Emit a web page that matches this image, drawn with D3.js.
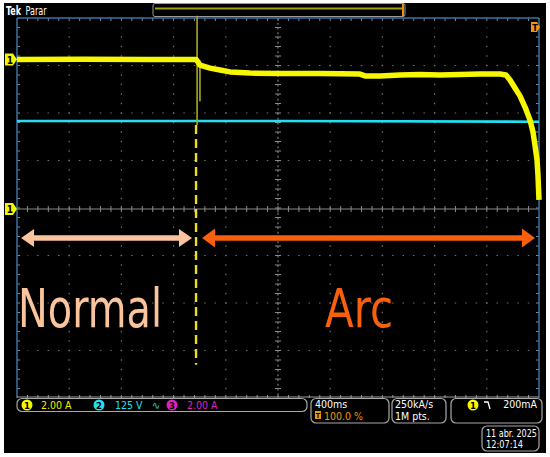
<!DOCTYPE html>
<html><head><meta charset="utf-8">
<script src="https://cdn.jsdelivr.net/npm/d3@7"></script>
<style>html,body{margin:0;padding:0;background:#fff;}svg{display:block;}</style>
</head><body>
<script>
// ---- data ----
const ch1Time = [0, 500, 1019, 1372, 1387, 1402, 1479, 1556, 1632, 1785, 2015, 2322, 2628, 2667, 2782, 2935, 3088, 3241, 3395, 3548, 3701, 3747, 3778, 3816, 3854, 3893, 3931, 3954, 3969, 3985, 3992, 4000];
const ch1Amps = [6.25, 6.26, 6.25, 6.25, 6.15, 6.02, 5.89, 5.81, 5.73, 5.68, 5.66, 5.66, 5.64, 5.56, 5.56, 5.60, 5.62, 5.60, 5.62, 5.64, 5.64, 5.60, 5.39, 5.05, 4.72, 4.25, 3.71, 3.20, 2.65, 2.02, 1.39, 0.34];
const ch2Time = [0, 2000, 4000];
const ch2Volts = [229, 229, 227];
const spikeTime = [1380, 1402];
const spikeTop = [8.1, 6.2];
const spikeBottom = [3.5, 4.5];
const triggerTime = 1372;
const normalRange = [31, 1341];
const arcRange = [1418, 3969];
const annotations = ["Normal", "Arc"];
const ch1Scale = 2;      // A/div
const ch2Scale = 125;    // V/div
const timePerDiv = 400;  // ms
const statusCh = ["2.00 A", "125 V", "2.00 A"];

const W = 550, H = 457;
const svg = d3.select("body").append("svg").attr("width", W).attr("height", H);
const FONT = "'DejaVu Sans Condensed','Liberation Sans Narrow','DejaVu Sans',sans-serif";

svg.append("rect").attr("width", W).attr("height", H).attr("fill", "#fff");
svg.append("rect").attr("x", 4).attr("y", 3).attr("width", 542).attr("height", 450).attr("fill", "#000");

const L = 17, R = 539, T = 18, B = 398;
const x = d3.scaleLinear().domain([0, 10 * timePerDiv]).range([L, R]);
const yDiv = d3.scaleLinear().domain([-4, 4]).range([B, T]);
const y1 = v => yDiv(v / ch1Scale);
const y2 = v => yDiv(v / ch2Scale);
const dx = (R - L) / 10, dy = (B - T) / 8;

// text placed at (xp, yp) and squeezed horizontally to a given width
function fitText(xp, yp, s, width, attrs) {
  const gg = svg.append("g").attr("transform", `translate(${xp},${yp})`);
  const t = gg.append("text").attr("x", 0).attr("y", 0).text(s);
  Object.entries(attrs).forEach(([k, v]) => t.attr(k, v));
  const w = t.node().getComputedTextLength();
  if (w > 0) t.attr("transform", `scale(${width / w},1)`);
  return t;
}

// ---- graticule ----
const g = svg.append("g");
for (let i = 1; i < 10; i++) {
  if (i === 5) continue;
  g.append("line").attr("x1", L + i * dx).attr("x2", L + i * dx).attr("y1", T + dy / 5).attr("y2", B)
    .attr("stroke", "#707070").attr("stroke-width", 1.2).attr("stroke-dasharray", `1.5,${dy / 5 - 1.5}`)
    .attr("stroke-dashoffset", 0.75);
}
for (let j = 1; j < 8; j++) {
  if (j === 4) continue;
  g.append("line").attr("y1", T + j * dy).attr("y2", T + j * dy).attr("x1", L + dx / 5).attr("x2", R)
    .attr("stroke", "#707070").attr("stroke-width", 1.2).attr("stroke-dasharray", `1.5,${dx / 5 - 1.5}`)
    .attr("stroke-dashoffset", 0.75);
}
// center axes
const cx = L + 5 * dx, cy = T + 4 * dy;
g.append("line").attr("x1", L).attr("x2", R).attr("y1", cy + 1).attr("y2", cy + 1).attr("stroke", "#8a8a8a").attr("stroke-width", 1.2);
for (let k = 1; k < 50; k++) {
  g.append("line").attr("x1", L + k * dx / 5).attr("x2", L + k * dx / 5).attr("y1", cy - 2).attr("y2", cy + 4).attr("stroke", "#8a8a8a").attr("stroke-width", 1);
}
g.append("line").attr("x1", cx).attr("x2", cx).attr("y1", T).attr("y2", B).attr("stroke", "#7a7a7a").attr("stroke-width", 1.2).attr("stroke-dasharray", "2,2.75");
for (let k = 1; k < 40; k++) {
  g.append("line").attr("y1", T + k * dy / 5).attr("y2", T + k * dy / 5).attr("x1", cx - 3).attr("x2", cx + 3).attr("stroke", "#8a8a8a").attr("stroke-width", 1);
}
// border ticks
for (let k = 1; k < 50; k++) {
  const xx = L + k * dx / 5;
  g.append("line").attr("x1", xx).attr("x2", xx).attr("y1", T).attr("y2", T + 3).attr("stroke", "#6f8fa8");
  g.append("line").attr("x1", xx).attr("x2", xx).attr("y1", B).attr("y2", B - 3).attr("stroke", "#9a9a9a");
}
for (let k = 1; k < 40; k++) {
  const yy = T + k * dy / 5;
  g.append("line").attr("y1", yy).attr("y2", yy).attr("x1", L).attr("x2", L + 3).attr("stroke", "#6f8fa8");
  g.append("line").attr("y1", yy).attr("y2", yy).attr("x1", R).attr("x2", R - 3).attr("stroke", "#6f8fa8");
}
g.append("line").attr("x1", L).attr("x2", R).attr("y1", T).attr("y2", T).attr("stroke", "#3b72a0").attr("stroke-width", 1.5);
g.append("line").attr("x1", L).attr("x2", L).attr("y1", T).attr("y2", B).attr("stroke", "#3b72a0").attr("stroke-width", 1.5);
g.append("line").attr("x1", R).attr("x2", R).attr("y1", T).attr("y2", B).attr("stroke", "#3b72a0").attr("stroke-width", 1.5);
g.append("line").attr("x1", L).attr("x2", R).attr("y1", B - 1).attr("y2", B - 1).attr("stroke", "#a0a0a0").attr("stroke-width", 1.2);

// ---- traces ----
const ch2 = ch2Time.map((t, i) => [t, ch2Volts[i]]);
svg.append("path").attr("d", d3.line().x(d => x(d[0])).y(d => y2(d[1]))(ch2))
  .attr("fill", "none").attr("stroke", "#22e0f2").attr("stroke-width", 2.6);

spikeTime.forEach((t, i) => {
  svg.append("line").attr("x1", x(t)).attr("x2", x(t)).attr("y1", y1(spikeTop[i])).attr("y2", y1(spikeBottom[i]))
    .attr("stroke", "#a8a818").attr("stroke-width", 1.6);
});

const ch1 = ch1Time.map((t, i) => [t, ch1Amps[i]]);
svg.append("path").attr("d", d3.line().x(d => x(d[0])).y(d => y1(d[1]))(ch1))
  .attr("fill", "none").attr("stroke", "#f7f700").attr("stroke-width", 5.5).attr("stroke-linejoin", "round");

// trigger dashed line
svg.append("line").attr("x1", x(triggerTime)).attr("x2", x(triggerTime))
  .attr("y1", yDiv(1.75)).attr("y2", yDiv(-3.3))
  .attr("stroke", "#ecdf1a").attr("stroke-width", 2.4).attr("stroke-dasharray", "9,5");

// ---- arrows ----
function arrow(x0, x1, yc, color, half, headL, headH) {
  const p = d3.path();
  p.moveTo(x0, yc);
  p.lineTo(x0 + headL, yc - headH);
  p.lineTo(x0 + headL, yc - half);
  p.lineTo(x1 - headL, yc - half);
  p.lineTo(x1 - headL, yc - headH);
  p.lineTo(x1, yc);
  p.lineTo(x1 - headL, yc + headH);
  p.lineTo(x1 - headL, yc + half);
  p.lineTo(x0 + headL, yc + half);
  p.lineTo(x0 + headL, yc + headH);
  p.closePath();
  svg.append("path").attr("d", p.toString()).attr("fill", color);
}
const arrowY = yDiv(-0.63);
arrow(x(normalRange[0]), x(normalRange[1]), arrowY, "#fcc49c", 2.8, 13, 9);
arrow(x(arcRange[0]), x(arcRange[1]), arrowY, "#f8600e", 2.8, 13, 9.5);

const BIG = "'Liberation Sans Narrow','DejaVu Sans Condensed',sans-serif";
fitText(x(8), yDiv(-2.5), annotations[0], 144, { fill: "#fcc49c", "font-family": BIG, "font-size": 53 });
fitText(x(2360), yDiv(-2.5), annotations[1], 68, { fill: "#f8600e", "font-family": BIG, "font-size": 53 });

// ---- markers ----
function chMarker(yc, label, color) {
  svg.append("path").attr("d", `M5,${yc - 6} L13,${yc - 6} L17,${yc} L13,${yc + 6} L5,${yc + 6} Z`).attr("fill", color);
  svg.append("text").attr("x", 10).attr("y", yc + 4).attr("text-anchor", "middle").text(label)
    .attr("font-family", FONT).attr("font-weight", "bold").attr("font-size", 10).attr("fill", "#000");
}
chMarker(y1(6.25), "1", "#f7f700");
chMarker(y1(0) + 1, "1", "#f7f700");
// trigger position T
svg.append("path").attr("d", `M531,22 L537,22 L540,27 L537,32 L531,32 Z`).attr("fill", "#f0960c");
svg.append("text").attr("x", 535).attr("y", 30.5).attr("text-anchor", "middle").text("T")
  .attr("font-family", FONT).attr("font-weight", "bold").attr("font-size", 9).attr("fill", "#000");

// ---- top bar ----
fitText(6, 15, "Tek", 15, { fill: "#fff", "font-family": FONT, "font-weight": "bold", "font-size": 13 });
fitText(25.5, 15, "Parar", 21, { fill: "#fff", "font-family": FONT, "font-size": 12 });
svg.append("rect").attr("x", 153).attr("y", 3.5).attr("width", 252).attr("height", 13).attr("rx", 2).attr("fill", "none").attr("stroke", "#9a9a9a").attr("stroke-width", 1);
svg.append("line").attr("x1", 155).attr("x2", 403).attr("y1", 8.5).attr("y2", 8.5).attr("stroke", "#a6a20c").attr("stroke-width", 2);
svg.append("line").attr("x1", 403).attr("x2", 403).attr("y1", 4).attr("y2", 16).attr("stroke", "#f08a10").attr("stroke-width", 2);

// ---- status bar ----
function box(x0, y0, w, h) {
  svg.append("rect").attr("x", x0).attr("y", y0).attr("width", w).attr("height", h).attr("rx", 5)
    .attr("fill", "none").attr("stroke", "#a8a8a8").attr("stroke-width", 1.2);
}
box(17, 398.5, 290, 13);
box(311, 398.5, 78, 24.5);
box(392, 398.5, 54, 24.5);
box(451, 398.5, 91, 24.5);
box(482, 426, 57, 25);

function circ(cxp, cyp, label, color) {
  svg.append("circle").attr("cx", cxp).attr("cy", cyp).attr("r", 5.5).attr("fill", color);
  svg.append("text").attr("x", cxp).attr("y", cyp + 3.5).attr("text-anchor", "middle").text(label)
    .attr("font-family", FONT).attr("font-weight", "bold").attr("font-size", 9.5).attr("fill", "#000");
}
function txt(xp, yp, s, color, anchor) {
  svg.append("text").attr("x", xp).attr("y", yp).text(s).attr("fill", color)
    .attr("font-family", FONT).attr("font-size", 10.5).attr("text-anchor", anchor || "start");
}
circ(27, 405, "1", "#f7f700"); txt(41, 409, statusCh[0], "#f0f000");
circ(99, 405, "2", "#22e0f2"); txt(115, 409, statusCh[1], "#22e0f2");
txt(152, 409, "∿", "#22e0f2");
circ(172, 405, "3", "#e020c0"); txt(187, 409, statusCh[2], "#e020c0");

txt(315, 408, timePerDiv + "ms", "#fff");
svg.append("rect").attr("x", 315).attr("y", 411).attr("width", 6).attr("height", 8).attr("fill", "#f0960c");
svg.append("text").attr("x", 318).attr("y", 418).attr("text-anchor", "middle").text("T").attr("font-family", FONT).attr("font-weight", "bold").attr("font-size", 7).attr("fill", "#000");
txt(324, 420, "100.0 %", "#f0960c");
txt(395, 408, "250kA/s", "#fff");
txt(395, 420, "1M pts.", "#fff");
circ(473, 405, "1", "#f7f700");
svg.append("path").attr("d", "M484,402 L488,402 L490,409").attr("fill", "none").attr("stroke", "#fff").attr("stroke-width", 1.3);
txt(537, 408, "200mA", "#fff", "end");
fitText(486, 436.6, "11 abr. 2025", 51, { fill: "#fff", "font-family": FONT, "font-size": 10 });
fitText(486, 448.4, "12:07:14", 37, { fill: "#fff", "font-family": FONT, "font-size": 10 });
</script>
</body></html>
